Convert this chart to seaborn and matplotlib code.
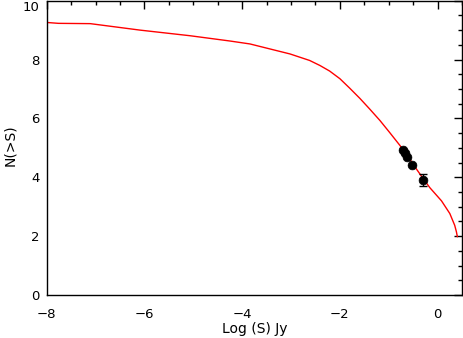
import matplotlib
matplotlib.use("Agg")
import matplotlib.pyplot as plt
from matplotlib.ticker import MultipleLocator
import pandas as pd
import seaborn as sns

# Model curve: cumulative source counts vs log flux
log_s_model = [-8.0, -7.76, -7.11, -6.09, -5.07, -4.25, -3.84, -3.43, -3.02,
               -2.62, -2.41, -2.21, -2.00, -1.80, -1.59, -1.39, -1.18, -0.98,
               -0.77, -0.60, -0.45, -0.30, -0.16, 0.08, 0.25, 0.35, 0.385, 0.405]
n_model = [9.26, 9.23, 9.22, 9.00, 8.81, 8.63, 8.53, 8.36, 8.19,
           7.97, 7.80, 7.61, 7.35, 7.03, 6.68, 6.32, 5.93, 5.52,
           5.08, 4.70, 4.32, 3.97, 3.65, 3.20, 2.77, 2.37, 2.15, 1.98]

# Measured counts
log_s_obs = [-0.70, -0.66, -0.62, -0.52, -0.30]
n_obs = [4.93, 4.81, 4.69, 4.42, 3.90]
n_err = [0.0, 0.0, 0.0, 0.0, 0.20]

sns.set_style("white")
plt.rcParams['font.family'] = ['DejaVu Sans']

fig = plt.figure(figsize=(4.63, 3.38), dpi=100)
ax = fig.add_axes([0.1009, 0.127, 0.897, 0.871])

model = pd.DataFrame({"logS": log_s_model, "N": n_model})
obs = pd.DataFrame({"logS": log_s_obs, "N": n_obs})

sns.lineplot(data=model, x="logS", y="N", color="red", linewidth=1.0, ax=ax,
             sort=False)
ax.errorbar(log_s_obs, n_obs, yerr=n_err, fmt="none", ecolor="black",
            elinewidth=1.0, capsize=3)
sns.scatterplot(data=obs, x="logS", y="N", color="black", s=40,
                edgecolor="black", ax=ax, zorder=3)

ax.set_xlim(-8, 0.5)
ax.set_ylim(0, 10)
ax.xaxis.set_major_locator(MultipleLocator(2))
ax.xaxis.set_minor_locator(MultipleLocator(0.5))
ax.yaxis.set_major_locator(MultipleLocator(2))
ax.yaxis.set_minor_locator(MultipleLocator(0.5))
ax.tick_params(which="both", direction="in", top=True, right=True,
               colors="black", labelsize=9.5, width=1)
ax.tick_params(which="major", length=6)
ax.tick_params(which="minor", length=3)
ax.tick_params(axis="x", which="major", pad=9)
ax.tick_params(axis="y", which="major", pad=5)
for sp in ax.spines.values():
    sp.set_color("black")
    sp.set_linewidth(1.0)

# keep the top y tick label inside the canvas
fig.canvas.draw()
for tick in ax.yaxis.get_major_ticks():
    if abs(tick.get_loc() - 10) < 1e-9:
        tick.label1.set_verticalalignment("top")

ax.set_xlabel("Log (S) Jy", fontsize=10, color="black")
ax.set_ylabel("N(>S)", fontsize=10, color="black")
ax.xaxis.set_label_coords(0.5, -0.09)
ax.yaxis.set_label_coords(-0.072, 0.51)

fig.savefig("out.png", dpi=100)
